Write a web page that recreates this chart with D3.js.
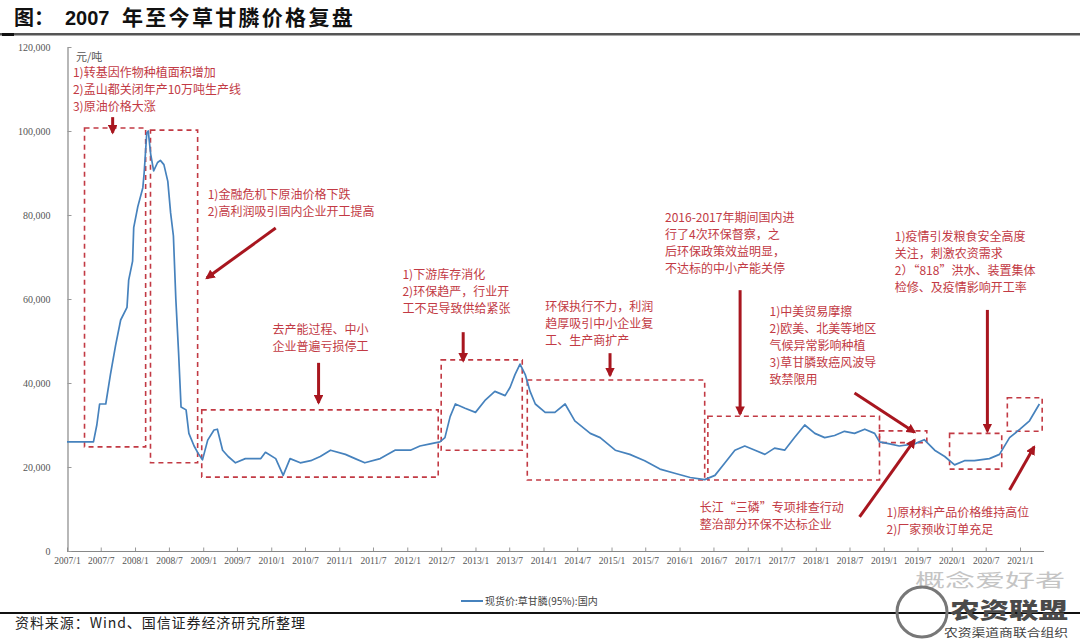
<!DOCTYPE html>
<html><head><meta charset="utf-8">
<script src="https://cdn.jsdelivr.net/npm/d3@7"></script>
<style>body{margin:0;background:#fff}svg{display:block}</style>
</head><body>
<svg id="c" width="1080" height="641"></svg>
<script>
// ---------- data ----------
const dates = ["2007-01-01","2007-05-23","2007-06-10","2007-06-25","2007-07-28","2007-08-22","2007-09-19","2007-10-16","2007-11-19","2007-11-28","2007-12-19","2007-12-25","2008-01-16","2008-02-12","2008-02-19","2008-03-04","2008-03-12","2008-03-25","2008-04-10","2008-05-01","2008-05-16","2008-06-04","2008-06-25","2008-07-10","2008-07-25","2008-08-07","2008-08-22","2008-09-04","2008-10-01","2008-10-16","2008-11-13","2008-12-04","2008-12-28","2009-01-25","2009-02-28","2009-03-18","2009-04-15","2009-05-15","2009-06-23","2009-08-15","2009-11-06","2009-12-01","2010-01-25","2010-03-06","2010-04-12","2010-06-06","2010-08-01","2010-09-21","2010-11-15","2011-02-03","2011-03-27","2011-05-18","2011-08-09","2011-10-27","2012-01-18","2012-03-09","2012-05-03","2012-06-24","2012-07-21","2012-08-18","2012-09-15","2012-11-06","2013-01-01","2013-02-24","2013-04-15","2013-06-09","2013-07-06","2013-08-01","2013-08-28","2013-09-25","2013-10-21","2013-11-18","2014-01-10","2014-03-03","2014-04-27","2014-06-18","2014-09-09","2014-11-01","2015-01-21","2015-04-09","2015-06-28","2015-09-18","2015-12-06","2016-02-27","2016-05-15","2016-07-09","2016-09-01","2016-10-24","2016-12-16","2017-02-09","2017-04-03","2017-05-25","2017-07-18","2017-09-09","2017-11-03","2017-12-27","2018-02-18","2018-04-12","2018-06-04","2018-07-28","2018-09-21","2018-11-13","2018-12-09","2019-02-02","2019-03-25","2019-06-15","2019-08-06","2019-10-01","2019-11-24","2020-01-16","2020-03-09","2020-05-01","2020-07-21","2020-09-13","2020-11-06","2021-01-01","2021-02-21","2021-04-15"];
const prices = [26000,26000,30000,35000,35000,42000,49000,55000,58000,64500,69000,77000,82000,86500,90000,99500,100000,94500,90500,92500,93000,92000,88000,80500,75000,60000,47000,34300,33600,28000,25000,23300,21700,26400,28800,29000,24000,22500,21000,22000,22000,23500,22000,18000,22000,21000,21500,22500,24000,23000,22000,21000,22000,24000,24000,25000,25500,26000,27000,32000,35000,34000,33000,36000,38000,37000,39000,42000,44500,42000,38000,35000,33000,33000,35000,31000,28000,27000,24000,23000,21500,19500,18500,17500,17000,18000,21000,24000,25000,24000,23000,24500,24000,27000,30000,28000,27000,27500,28500,28000,29000,28000,26000,25500,25000,25500,26500,24000,22500,20500,21500,21500,22000,23000,27000,29000,31000,35000];
const yTicks = [0,20000,40000,60000,80000,100000,120000];
const xTickStart = "2007-01-01", xTickEnd = "2021-01-01";
const seriesName = "现货价:草甘膦(95%):国内";
const unitLabel = "元/吨";

// dashed boxes: [fromDate, toDate, lowValue, highValue]
const boxes = [
  ["2007-04-05","2008-02-27",24800,100700],
  ["2008-03-24","2008-12-02",21000,100200],
  ["2008-12-24","2012-06-15",17600,33600],
  ["2012-07-01","2013-09-09",24000,45500],
  ["2013-10-06","2016-05-15",16900,40700],
  ["2016-06-01","2018-12-09",16900,32100],
  ["2018-12-09","2019-08-20",25800,28600],
  ["2019-12-20","2020-09-25",19500,28000],
  ["2020-10-25","2021-04-30",28500,36500]
];
// arrows: [fromDate, fromValue, toDate, toValue]
const arrows = [
  ["2007-09-03",103300,"2007-09-03",99600],
  ["2010-01-25",76900,"2009-01-20",65000],
  ["2010-09-12",44800,"2010-09-12",35300],
  ["2012-10-27",52100,"2012-10-27",45300],
  ["2014-12-24",47100,"2014-12-24",41800],
  ["2016-11-21",62100,"2016-11-21",32600],
  ["2018-07-28",37600,"2019-06-15",28300],
  ["2020-07-10",57400,"2020-07-10",28500],
  ["2018-08-24",8100,"2019-06-15",26400],
  ["2020-11-06",14500,"2021-03-18",24800]
];
// annotation text blocks: [date, value of first line, anchor, lines]
const notes = [
  ["2007-02-02",113800,"start",["1)转基因作物种植面积增加","2)孟山都关闭年产10万吨生产线","3)原油价格大涨"]],
  ["2009-01-25",84800,"start",["1)金融危机下原油价格下跌","2)高利润吸引国内企业开工提高"]],
  ["2010-09-22",52600,"middle",["去产能过程、中小","企业普遍亏损停工"]],
  ["2011-12-06",65700,"start",["1)下游库存消化","2)环保趋严，行业开","工不足导致供给紧张"]],
  ["2014-01-10",58100,"start",["环保执行不力，利润","趋厚吸引中小企业复","工、生产商扩产"]],
  ["2015-10-15",79300,"start",["2016-2017年期间国内进","行了4次环保督察，之","后环保政策效益明显，","不达标的中小产能关停"]],
  ["2019-03-01",74800,"start",["1)疫情引发粮食安全高度","关注，刺激农资需求","2）“818”洪水、装置集体","检修、及疫情影响开工率"]],
  ["2017-04-28",56900,"start",["1)中美贸易摩擦","2)欧美、北美等地区","气候异常影响种植","3)草甘膦致癌风波导","致禁限用"]],
  ["2016-04-19",10200,"start",["长江“三磷”专项排查行动","整治部分环保不达标企业"]],
  ["2019-01-16",9000,"start",["1)原材料产品价格维持高位","2)厂家预收订单充足"]]
];

// ---------- drawing ----------
const svg = d3.select("#c");
const parse = d3.timeParse("%Y-%m-%d");
const x = d3.scaleTime().domain([parse(xTickStart), parse(xTickEnd)]).range([67, 1020]);
const y = d3.scaleLinear().domain([0, 120000]).range([551, 47]);
const red = "#c23a44", darkRed = "#a8161f";

svg.append("rect").attr("width",1080).attr("height",641).attr("fill","#fff");

// title
svg.append("text").attr("x",14).attr("y",25).attr("font-family","Noto Sans CJK SC").attr("font-size",20).attr("font-weight","bold").attr("fill","#111").text("图：");
svg.append("text").attr("x",65).attr("y",25).attr("font-family","Liberation Sans, Arial").attr("font-size",20).attr("font-weight","bold").attr("fill","#111").text("2007");
svg.append("text").attr("x",122).attr("y",25).attr("font-family","Noto Sans CJK SC").attr("font-size",21).attr("font-weight","bold").attr("letter-spacing","2.3").attr("fill","#111").text("年至今草甘膦价格复盘");
svg.append("rect").attr("x",0).attr("y",33).attr("width",1080).attr("height",2.5).attr("fill","#555");
svg.append("rect").attr("x",2).attr("y",33).attr("width",12).attr("height",3).attr("fill","#111");

// axes
const months6 = d3.timeMonth.every(6).range(parse(xTickStart), d3.timeDay.offset(parse(xTickEnd),1));
const xAxis = d3.axisBottom(x).tickValues(months6).tickSizeInner(-4).tickSizeOuter(0).tickPadding(6)
  .tickFormat(d3.timeFormat("%Y/%-m"));
const gx = svg.append("g").attr("transform","translate(0,551.5)").call(xAxis);
gx.select(".domain").remove();
gx.append("line").attr("x1",67).attr("x2",1044).attr("stroke","#888").attr("stroke-width",1.2);
gx.selectAll(".tick line").attr("stroke","#999");
gx.selectAll("text").attr("font-family","Liberation Serif").attr("font-size",9.5).attr("fill","#555");

const yAxis = d3.axisLeft(y).tickValues(yTicks).tickSizeInner(-4).tickSizeOuter(0).tickPadding(17).tickFormat(d3.format(","));
const gy = svg.append("g").attr("transform","translate(67.5,0)").call(yAxis);
gy.select(".domain").attr("stroke","#888").attr("stroke-width",1.2);
gy.selectAll(".tick line").attr("stroke","#999");
gy.selectAll("text").attr("font-family","Liberation Serif").attr("font-size",10).attr("fill","#555");

// boxes
svg.append("g").selectAll("rect").data(boxes).join("rect")
  .attr("x",d=>x(parse(d[0]))).attr("y",d=>y(d[3]))
  .attr("width",d=>x(parse(d[1]))-x(parse(d[0]))).attr("height",d=>y(d[2])-y(d[3]))
  .attr("fill","none").attr("stroke",red).attr("stroke-width",1.6).attr("stroke-dasharray","5,4");

// line
const data = dates.map((d,i)=>({d:parse(d),v:prices[i]}));
svg.append("path").datum(data).attr("fill","none").attr("stroke","#4682bd").attr("stroke-width",1.7)
  .attr("stroke-linejoin","round")
  .attr("d",d3.line().x(p=>x(p.d)).y(p=>y(p.v)));

// arrows
const defs = svg.append("defs");
defs.append("marker").attr("id","ah").attr("viewBox","0 0 10 10").attr("refX",8).attr("refY",5)
  .attr("markerWidth",3.2).attr("markerHeight",3.2).attr("orient","auto")
  .append("path").attr("d","M0,0L10,5L0,10z").attr("fill",darkRed);
svg.append("g").selectAll("line").data(arrows).join("line")
  .attr("x1",d=>x(parse(d[0]))).attr("y1",d=>y(d[1])).attr("x2",d=>x(parse(d[2]))).attr("y2",d=>y(d[3]))
  .attr("stroke",darkRed).attr("stroke-width",3).attr("marker-end","url(#ah)");

// notes
svg.append("text").attr("x",x(parse("2007-02-18"))).attr("y",y(117600)).attr("dy","0.35em")
  .attr("font-family","Noto Sans CJK SC").attr("font-size",11).attr("fill","#555").text(unitLabel);
const ng = svg.append("g").attr("font-family","Noto Sans CJK SC").attr("font-size",12).attr("fill",red);
notes.forEach(n=>{
  const t = ng.append("text").attr("text-anchor",n[2]);
  n[3].forEach((s,i)=>{
    t.append("tspan").attr("x",x(parse(n[0]))).attr("y",y(n[1])+i*17).attr("dy","0.35em").text(s);
  });
});

// legend
svg.append("line").attr("x1",461).attr("x2",483).attr("y1",601).attr("y2",601).attr("stroke","#4682bd").attr("stroke-width",2);
svg.append("text").attr("x",485).attr("y",601).attr("dy","0.35em").attr("font-family","Noto Sans CJK SC").attr("font-size",10).attr("fill","#444").text(seriesName);

// footer
svg.append("rect").attr("x",0).attr("y",612).attr("width",1080).attr("height",2).attr("fill","#111");
svg.append("text").attr("x",15).attr("y",628).attr("font-family","Noto Sans CJK SC").attr("font-size",14).attr("fill","#222")
  .attr("textLength",290).text("资料来源：Wind、国信证券经济研究所整理");

// watermark
const wm = svg.append("g");
wm.append("text").attr("x",915).attr("y",587).attr("font-family","Noto Sans CJK SC").attr("font-size",18)
  .attr("textLength",150).attr("lengthAdjust","spacingAndGlyphs").attr("fill","#c4c4c4").text("概念爱好者");
wm.append("circle").attr("cx",922).attr("cy",612).attr("r",25).attr("fill","none").attr("stroke","#777").attr("stroke-width",3);
wm.append("text").attr("x",950).attr("y",618).attr("font-family","Noto Sans CJK SC").attr("font-size",22).attr("font-weight","900")
  .attr("textLength",118).attr("lengthAdjust","spacingAndGlyphs").attr("fill","#4a4a4a").text("农资联盟");
wm.append("text").attr("x",944).attr("y",637).attr("font-family","Noto Sans CJK SC").attr("font-size",11)
  .attr("textLength",124).attr("lengthAdjust","spacingAndGlyphs").attr("fill","#444").text("农资渠道商联合组织");
</script>
</body></html>
